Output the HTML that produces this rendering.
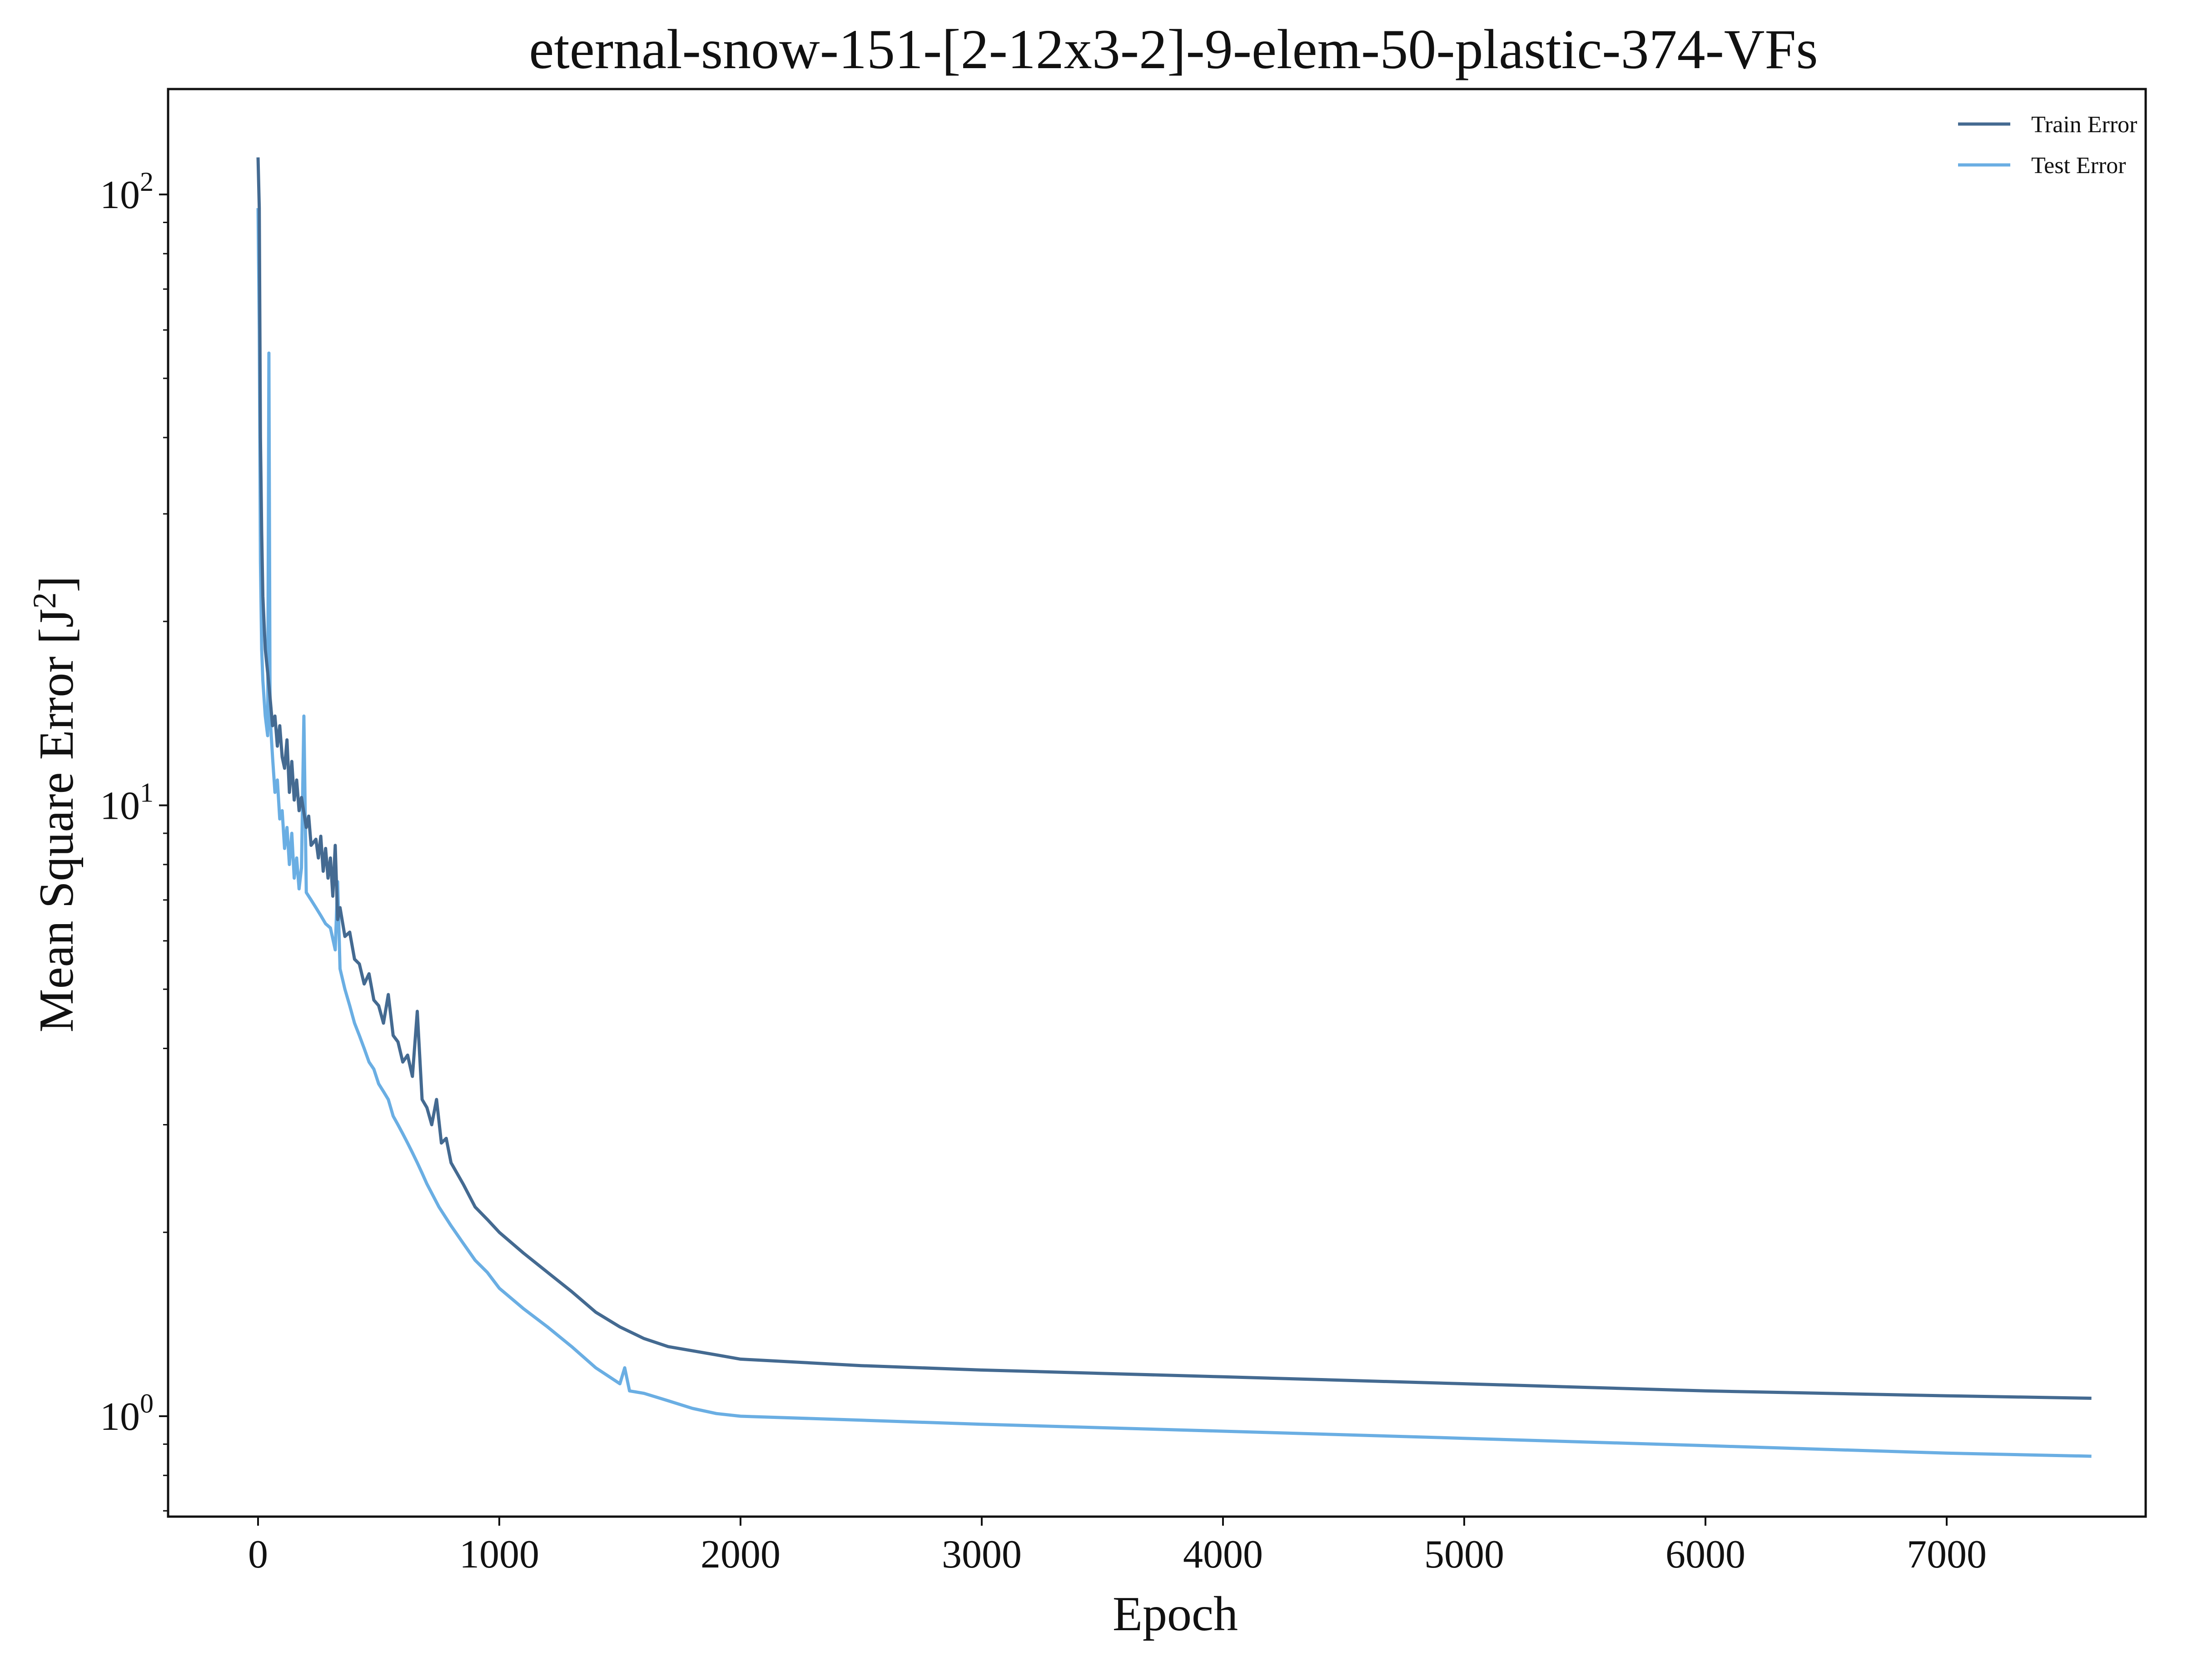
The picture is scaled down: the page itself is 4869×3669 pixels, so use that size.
<!DOCTYPE html>
<html><head><meta charset="utf-8">
<style>
html,body{margin:0;padding:0;background:#fff;}
svg{display:block;font-family:"Liberation Serif",serif;}
</style></head>
<body>
<svg id="chart" width="4869" height="3669" viewBox="0 0 4869 3669" xmlns="http://www.w3.org/2000/svg">
<rect width="4869" height="3669" fill="#fff"/>
<text x="2583" y="150" font-size="124" text-anchor="middle" fill="#111">eternal-snow-151-[2-12x3-2]-9-elem-50-plastic-374-VFs</text>
<text x="2587" y="3588" font-size="108" text-anchor="middle" fill="#111">Epoch</text>
<text transform="translate(160,1770) rotate(-90)" font-size="108" text-anchor="middle" fill="#111">Mean Square Error [J<tspan font-size="72" dy="-38">2</tspan><tspan dy="38">]</tspan></text>
<g id="marks"></g>
<g id="axes"></g>
<g>
<line x1="4310" y1="273" x2="4425" y2="273" stroke="#446a91" stroke-width="7"/>
<text x="4471" y="291" font-size="52" fill="#111">Train Error</text>
<line x1="4310" y1="363" x2="4425" y2="363" stroke="#6aaee3" stroke-width="7"/>
<text x="4471" y="381" font-size="52" fill="#111">Test Error</text>
</g>
<rect x="370" y="196" width="4353" height="3142" fill="none" stroke="#111" stroke-width="5"/>
</svg>
<script>
const trainEpochs=[0,5,10,15,20,30,40,50,60,70,80,90,100,110,120,130,140,150,160,170,180,200,210,220,240,250,260,270,280,290,300,310,320,330,340,360,380,400,420,440,460,480,500,520,540,560,580,600,620,640,660,680,700,720,740,760,780,800,850,900,950,1000,1100,1200,1300,1400,1500,1600,1700,1800,1900,2000,2500,3000,4000,5000,6000,7000,7600];
const trainValues=[115,95,40,28,22,18,16.5,15,13.5,14,12.5,13.5,12,11.5,12.8,10.5,11.8,10.2,11,9.8,10.3,9.2,9.6,8.6,8.8,8.2,8.9,7.8,8.5,7.6,8.2,7.1,8.6,6.5,6.8,6.1,6.2,5.6,5.5,5.1,5.3,4.8,4.7,4.4,4.9,4.2,4.1,3.8,3.9,3.6,4.6,3.3,3.2,3.0,3.3,2.8,2.85,2.6,2.4,2.2,2.1,2.0,1.85,1.72,1.6,1.48,1.4,1.34,1.3,1.28,1.26,1.24,1.21,1.19,1.16,1.13,1.10,1.08,1.07];
const testEpochs=[0,5,10,15,20,30,40,45,50,60,70,80,90,100,110,120,130,140,150,160,170,180,190,200,220,240,260,280,300,320,330,340,360,380,400,420,440,460,480,500,520,540,560,580,600,620,640,660,680,700,750,800,850,900,950,1000,1100,1200,1300,1400,1500,1520,1540,1600,1700,1800,1900,2000,2500,3000,4000,5000,6000,7000,7600];
const testValues=[95,60,25,18,16,14,13,55,14,12,10.5,11,9.5,9.8,8.5,9.2,8,9,7.6,8.2,7.3,7.9,14,7.2,7,6.8,6.6,6.4,6.3,5.8,7.5,5.4,5.0,4.7,4.4,4.2,4.0,3.8,3.7,3.5,3.4,3.3,3.1,3.0,2.9,2.8,2.7,2.6,2.5,2.4,2.2,2.05,1.92,1.8,1.72,1.62,1.5,1.4,1.3,1.2,1.13,1.2,1.1,1.09,1.06,1.03,1.01,1.0,0.985,0.97,0.945,0.92,0.895,0.87,0.86];
const xTicks=[0,1000,2000,3000,4000,5000,6000,7000];
const yTicks=[1,10,100];
const yTickLabels=["10","10","10"];
const yTickExps=["0","1","2"];

const NS="http://www.w3.org/2000/svg";
const X0=568, XK=0.5310;
const Y1=3117, DEC=1344.5;
const xs=e=>X0+e*XK;
const ys=v=>Y1-Math.log10(v)*DEC;
function mk(tag,attrs,parent){const el=document.createElementNS(NS,tag);for(const k in attrs)el.setAttribute(k,attrs[k]);parent.appendChild(el);return el;}
const marks=document.getElementById('marks'), axes=document.getElementById('axes');
function series(E,V,color,name){
  let d=E.map((e,i)=>(i?'L':'M')+xs(e).toFixed(1)+','+ys(V[i]).toFixed(1)).join(' ');
  const p=mk('path',{d:d,fill:'none',stroke:color,'stroke-width':7,'stroke-linejoin':'round'},marks);
  
  
}
series(testEpochs,testValues,'#6aaee3','test-error-line');
series(trainEpochs,trainValues,'#446a91','train-error-line');
xTicks.forEach(t=>{
  const x=xs(t);
  const l=mk('line',{x1:x,y1:3338,x2:x,y2:3358,stroke:'#111','stroke-width':4},axes);
  
  
  const tx=mk('text',{x:x,y:3450,'font-size':88,'text-anchor':'middle',fill:'#111'},axes);
  tx.textContent=String(t);
  
  
});
yTicks.forEach((t,i)=>{
  const y=ys(t);
  const l=mk('line',{x1:350,y1:y,x2:370,y2:y,stroke:'#111','stroke-width':4},axes);
  
  
  const tx=mk('text',{x:338,y:y+30,'font-size':88,'text-anchor':'end',fill:'#111'},axes);
  
  
  tx.innerHTML=yTickLabels[i]+'<tspan font-size="60" dy="-38">'+yTickExps[i]+'</tspan>';
});
[0.7,0.8,0.9,2,3,4,5,6,7,8,9,20,30,40,50,60,70,80,90].forEach(v=>{
  const y=ys(v); if(y<196||y>3338)return;
  const l=mk('line',{x1:359,y1:y,x2:370,y2:y,stroke:'#111','stroke-width':3},axes);
  
  
});
</script>
</body></html>
